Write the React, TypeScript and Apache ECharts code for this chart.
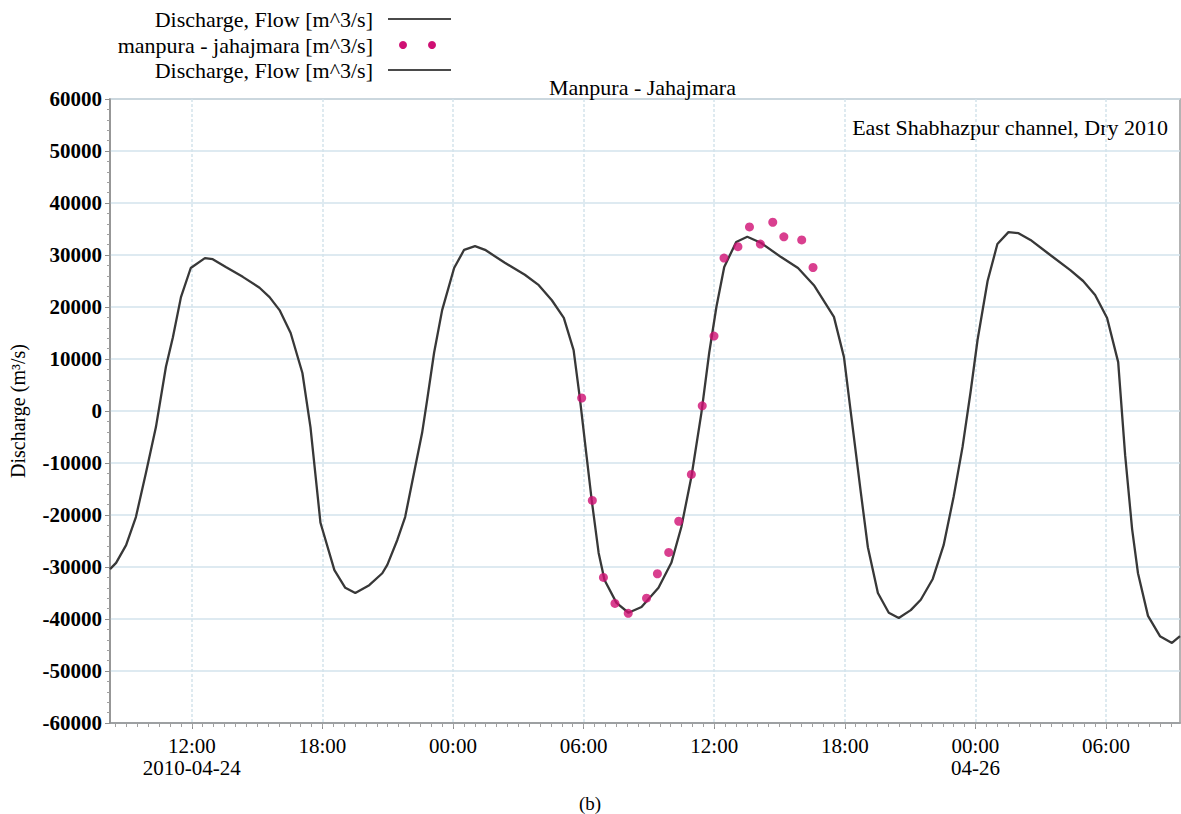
import React, { useEffect, useRef } from "react";
import * as echarts from "echarts";

// Hours since 2010-04-24 00:00
const flowHours = [
  8.24, 8.52, 8.98, 9.43, 9.89, 10.35, 10.81, 11.13, 11.5, 11.95,
  12.6, 12.96, 13.56, 14.34, 15.11, 15.57, 16.03, 16.54, 17.08, 17.45,
  17.91, 18.55, 19.05, 19.51, 20.15, 20.75,
  20.98, 21.44, 21.8, 22.26, 22.58, 22.81, 23.13, 23.5, 24.05, 24.51,
  25.01, 25.47, 26.38, 27.3, 27.94, 28.54, 29.09, 29.54, 29.82, 30.14,
  30.37, 30.69, 30.96, 31.51, 32.06,
  32.66, 33.44, 34.03, 34.49, 34.95, 35.41, 35.77, 36.1, 36.46, 37.01,
  37.52, 38.16, 39.07, 39.85, 40.58, 41.5, 41.96, 42.28, 42.74, 43.06,
  43.52, 44.02, 44.48, 45.03, 45.49,
  46.04, 46.54, 47.0, 47.41, 47.78, 48.1, 48.56, 49.01, 49.52, 49.98,
  50.53, 51.44, 52.36, 52.95, 53.5, 54.05, 54.56, 54.88, 55.2, 55.47,
  55.93, 56.48, 57.03, 57.4,
];
const flowValues = [
  -30400, -29200, -25800, -20400, -11900, -3100, 8500, 14200, 21900, 27500,
  29400, 29200, 27700, 25800, 23700, 21900, 19400, 15000, 7300, -3100,
  -21500, -30600, -34000, -35000, -33500, -31200,
  -29600, -24800, -20400, -10800, -4200, 2100, 11200, 19400, 27500, 31000,
  31700, 31000, 28500, 26200, 24200, 21300, 17900, 11700, 2700, -8800,
  -17100, -27300, -32500, -36900, -38800,
  -37700, -34000, -29200, -22300, -12700, -400, 11200, 20000, 27700, 32500,
  33500, 32300, 29600, 27500, 24200, 18100, 10400, -400, -15800, -26200,
  -35000, -38800, -39800, -38300, -36300,
  -32300, -25800, -16500, -6900, 3700, 13700, 25000, 32100, 34400, 34200,
  32900, 30000, 27100, 25000, 22300, 17900, 9400, -8500, -22700, -31200,
  -39400, -43300, -44600, -43300,
];

const obsHours = [
  29.91, 30.4, 30.91, 31.44, 32.05, 32.89, 33.39, 33.91, 34.37, 34.95,
  35.45, 35.99, 36.45, 37.09, 37.62, 38.12, 38.69, 39.2, 40.02, 40.54,
];
const obsValues = [
  2500, -17200, -32000, -37000, -38900, -36000, -31300, -27200, -21200, -12200,
  1000, 14400, 29400, 31600, 35400, 32100, 36300, 33500, 32900, 27600,
];

const xTickHours = [12, 18, 24, 30, 36, 42, 48, 54];
const xTickLabels = [
  "12:00\n2010-04-24",
  "18:00",
  "00:00",
  "06:00",
  "12:00",
  "18:00",
  "00:00\n04-26",
  "06:00",
];
const xMinorHours: number[] = [];
for (let h = 8.5; h <= 57.0; h += 0.5) xMinorHours.push(h);

const legendNames = [
  "Discharge, Flow [m^3/s]",
  "manpura - jahajmara [m^3/s]",
  "Discharge, Flow [m^3/s]",
];

const X_MIN = 8.24;
const X_MAX = 57.4;

const SERIF = "'Liberation Serif', 'Times New Roman', serif";
const LINE_COLOR = "#383838";
const DOT_COLOR = "#cf0f73";
const GRID_COLOR = "#d3e3ec";

export default function App() {
  const ref = useRef<HTMLDivElement>(null);

  useEffect(() => {
    if (!ref.current) return;
    const chart = echarts.init(ref.current, undefined, { renderer: "svg" });

    const flowData = flowHours.map((h, i) => [h, flowValues[i]]);
    const obsData = obsHours.map((h, i) => [h, obsValues[i]]);

    const legendY = [19, 45, 70];

    chart.setOption({
      animation: false,
      backgroundColor: "#ffffff",
      title: {
        text: "Manpura - Jahajmara",
        left: 549,
        top: 76,
        padding: 0,
        textStyle: {
          fontFamily: SERIF,
          fontSize: 22,
          fontWeight: "normal",
          color: "#000",
        },
      },
      grid: {
        left: 106,
        right: 1,
        top: 99,
        bottom: 91,
        show: true,
        borderColor: "#9a9a9a",
        borderWidth: 1.5,
        backgroundColor: "transparent",
      },
      xAxis: [
        {
          type: "value",
          min: X_MIN,
          max: X_MAX,
          position: "bottom",
          axisLine: {
            show: true,
            onZero: false,
            lineStyle: { color: "#8e8e8e", width: 1.5 },
          },
          axisTick: {
            show: true,
            customValues: xTickHours,
            length: 6,
            lineStyle: { color: "#8e8e8e", width: 1 },
          },
          axisLabel: {
            customValues: xTickHours,
            margin: 12,
            fontFamily: SERIF,
            fontSize: 21,
            lineHeight: 22,
            color: "#000",
            formatter: (v: number) => {
              const i = xTickHours.findIndex((t) => Math.abs(t - v) < 1e-6);
              return i >= 0 ? xTickLabels[i] : "";
            },
          },
          splitLine: {
            show: true,
            lineStyle: { color: GRID_COLOR, width: 1.5, type: [3, 2] },
          },
        },
        {
          type: "value",
          min: X_MIN,
          max: X_MAX,
          position: "bottom",
          axisLine: { show: false, onZero: false },
          axisTick: {
            show: true,
            customValues: xMinorHours,
            length: 4,
            lineStyle: { color: "#a0a0a0", width: 1 },
          },
          axisLabel: { show: false },
          splitLine: { show: false },
        },
      ],
      yAxis: {
        type: "value",
        min: -60000,
        max: 60000,
        interval: 10000,
        name: "Discharge (m\u00B3/s)",
        nameLocation: "middle",
        nameRotate: 90,
        nameGap: 82,
        nameTextStyle: {
          fontFamily: SERIF,
          fontSize: 20,
          color: "#000",
        },
        axisLine: { show: true, onZero: false, lineStyle: { color: "#8e8e8e", width: 1.5 } },
        axisTick: { show: true, length: 5, lineStyle: { color: "#8e8e8e" } },
        minorTick: {
          show: true,
          splitNumber: 5,
          length: 3,
          lineStyle: { color: "#a0a0a0" },
        },
        axisLabel: {
          margin: 8,
          fontFamily: SERIF,
          fontSize: 21,
          fontWeight: "bold",
          color: "#000",
          formatter: (v: number) => String(v),
        },
        splitLine: {
          show: true,
          lineStyle: { color: GRID_COLOR, width: 1.5 },
        },
      },
      series: [
        {
          name: legendNames[0],
          type: "line",
          xAxisIndex: 0,
          data: flowData,
          showSymbol: false,
          symbol: "none",
          lineStyle: { color: LINE_COLOR, width: 2.3 },
          z: 3,
        },
        {
          name: legendNames[1],
          type: "scatter",
          xAxisIndex: 0,
          data: obsData,
          symbol: "circle",
          symbolSize: 9,
          itemStyle: { color: DOT_COLOR },
          z: 4,
        },
      ],
      graphic: [
        ...legendY.map((y, i) => ({
          type: "text",
          x: 373,
          y,
          style: {
            text: legendNames[i],
            fontFamily: SERIF,
            fontSize: 22,
            fill: "#000",
            align: "right",
            verticalAlign: "middle",
          },
        })),
        {
          type: "line",
          shape: { x1: 388, y1: legendY[0], x2: 451, y2: legendY[0] },
          style: { stroke: "#4a4a4a", lineWidth: 2 },
        },
        {
          type: "circle",
          shape: { cx: 403, cy: legendY[1], r: 4 },
          style: { fill: DOT_COLOR },
        },
        {
          type: "circle",
          shape: { cx: 432, cy: legendY[1], r: 4 },
          style: { fill: DOT_COLOR },
        },
        {
          type: "line",
          shape: { x1: 388, y1: legendY[2], x2: 451, y2: legendY[2] },
          style: { stroke: "#4a4a4a", lineWidth: 2 },
        },
        {
          type: "text",
          x: 1168,
          y: 127,
          style: {
            text: "East Shabhazpur channel, Dry 2010",
            fontFamily: SERIF,
            fontSize: 22,
            fill: "#000",
            align: "right",
            verticalAlign: "middle",
          },
        },
        {
          type: "text",
          x: 590,
          y: 803,
          style: {
            text: "(b)",
            fontFamily: SERIF,
            fontSize: 19,
            fill: "#000",
            align: "center",
            verticalAlign: "middle",
          },
        },
      ],
    });

    return () => {
      chart.dispose();
    };
  }, []);

  return (
    <div
      ref={ref}
      style={{
        position: "fixed",
        left: 0,
        top: 0,
        width: 1181,
        height: 814,
        background: "#fff",
      }}
    />
  );
}
